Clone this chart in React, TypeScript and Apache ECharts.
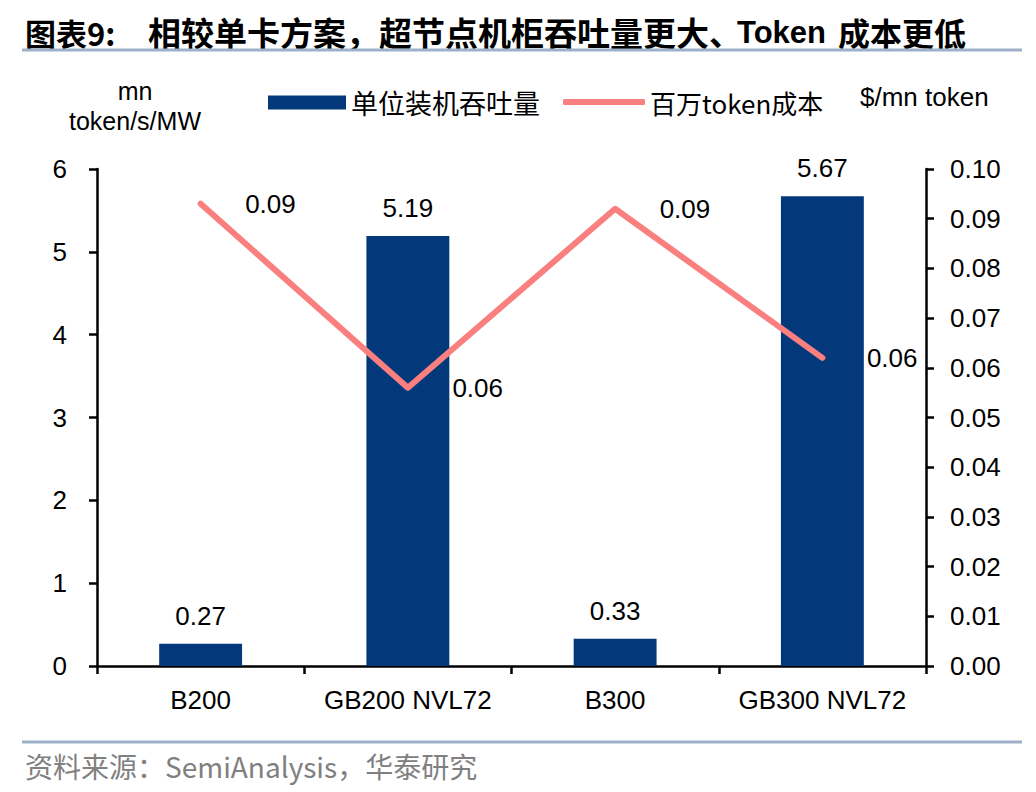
import * as echarts from 'echarts';
import { useEffect, useRef } from 'react';

const categories = ['B200', 'GB200 NVL72', 'B300', 'GB300 NVL72'];
const throughput = [0.27, 5.19, 0.33, 5.67];
const costPerMnToken = [0.093, 0.056, 0.092, 0.062];
const leftTicks = { min: 0, max: 6, interval: 1 };
const rightTicks = { min: 0, max: 0.1, interval: 0.01 };

const SANS = '"Liberation Sans", Arial, sans-serif';
const CJK = '"Noto Sans CJK SC", "Liberation Sans", sans-serif';
const BAR_COLOR = '#03397A';
const LINE_COLOR = '#FA7F7F';
const RULE_COLOR = '#9DB2CA';

const App = () => {
    const chartRef = useRef(null);

    useEffect(() => {
        document.body.style.margin = '0';
        const chart = echarts.init(chartRef.current, null, { renderer: 'svg' });

        const text = (t: string, x: number, y: number, size: number, extra: any = {}) => ({
            type: 'text',
            x,
            y,
            style: {
                text: t,
                fontSize: size,
                fontFamily: SANS,
                fill: '#000',
                align: 'left',
                verticalAlign: 'middle',
                textAlign: 'left',
                textVerticalAlign: 'middle',
                ...extra,
            },
        });

        const axisLine = { show: true, lineStyle: { color: '#000', width: 2.5 } };
        const axisTick = { show: true, length: 8, lineStyle: { color: '#000', width: 2.5 } };

        const option = {
            animation: false,
            backgroundColor: '#fff',
            textStyle: { fontFamily: SANS },
            graphic: [
                text('图表9:', 25, 32, 31, { fontWeight: 'bold', fontFamily: CJK }),
                text('相较单卡方案，超节点机柜吞吐量更大、', 148, 32, 33, { fontWeight: 'bold', fontFamily: CJK }),
                text('Token', 737, 32, 31, { fontWeight: 'bold' }),
                text('成本更低', 838, 32, 32, { fontWeight: 'bold', fontFamily: CJK }),
                { type: 'line', shape: { x1: 22, y1: 50, x2: 1022, y2: 50 }, style: { stroke: RULE_COLOR, lineWidth: 3 } },
                { type: 'line', shape: { x1: 22, y1: 742, x2: 1022, y2: 742 }, style: { stroke: RULE_COLOR, lineWidth: 3 } },
                text('mn', 135, 91, 25, { align: 'center', textAlign: 'center' }),
                text('token/s/MW', 135, 121, 25, { align: 'center', textAlign: 'center' }),
                text('$/mn token', 860, 97, 26),
                text('资料来源：SemiAnalysis，华泰研究', 25, 766, 28, { fill: '#808080', fontFamily: CJK }),
            ],
            legend: [
                {
                    left: 263,
                    top: 84,
                    itemWidth: 78,
                    itemHeight: 14,
                    textStyle: { fontSize: 27, fontFamily: CJK, color: '#000' },
                    data: [{ name: '单位装机吞吐量', icon: 'rect' }],
                },
                {
                    left: 558,
                    top: 84,
                    itemWidth: 82,
                    itemHeight: 6,
                    textStyle: { fontSize: 26, fontFamily: CJK, color: '#000' },
                    data: [{ name: '百万token成本', icon: 'roundRect' }],
                },
            ],
            grid: { left: 97, right: 110, top: 169, bottom: 126 },
            xAxis: {
                type: 'category',
                data: categories,
                boundaryGap: true,
                axisLine,
                axisTick: { ...axisTick, interval: 0 },
                axisLabel: { color: '#000', fontSize: 26, margin: 21, interval: 0 },
            },
            yAxis: [
                {
                    type: 'value',
                    ...leftTicks,
                    axisLine,
                    axisTick,
                    axisLabel: { color: '#000', fontSize: 26, margin: 30 },
                    splitLine: { show: false },
                },
                {
                    type: 'value',
                    position: 'right',
                    ...rightTicks,
                    axisLine,
                    axisTick,
                    axisLabel: {
                        color: '#000',
                        fontSize: 26,
                        margin: 24,
                        formatter: (v: number) => v.toFixed(2),
                    },
                    splitLine: { show: false },
                },
            ],
            series: [
                {
                    name: '单位装机吞吐量',
                    type: 'bar',
                    yAxisIndex: 0,
                    data: throughput,
                    barWidth: '40%',
                    itemStyle: { color: BAR_COLOR },
                    label: {
                        show: true,
                        position: 'top',
                        distance: 15,
                        color: '#000',
                        fontSize: 26,
                        formatter: (p: any) => p.value.toFixed(2),
                    },
                },
                {
                    name: '百万token成本',
                    type: 'line',
                    yAxisIndex: 1,
                    data: costPerMnToken,
                    symbol: 'circle',
                    symbolSize: 1,
                    showSymbol: true,
                    lineStyle: { color: LINE_COLOR, width: 6, cap: 'round', join: 'round' },
                    itemStyle: { color: LINE_COLOR },
                    label: {
                        show: true,
                        position: 'right',
                        distance: 44,
                        offset: [0, 5],
                        color: '#000',
                        fontSize: 26,
                        formatter: (p: any) => p.value.toFixed(2),
                    },
                    labelLayout: { hideOverlap: false },
                    z: 3,
                },
            ],
        };

        chart.setOption(option);

        return () => {
            chart.dispose();
        };
    }, []);

    return <div ref={chartRef} style={{ width: '1036px', height: '792px' }} />;
};

export default App;
